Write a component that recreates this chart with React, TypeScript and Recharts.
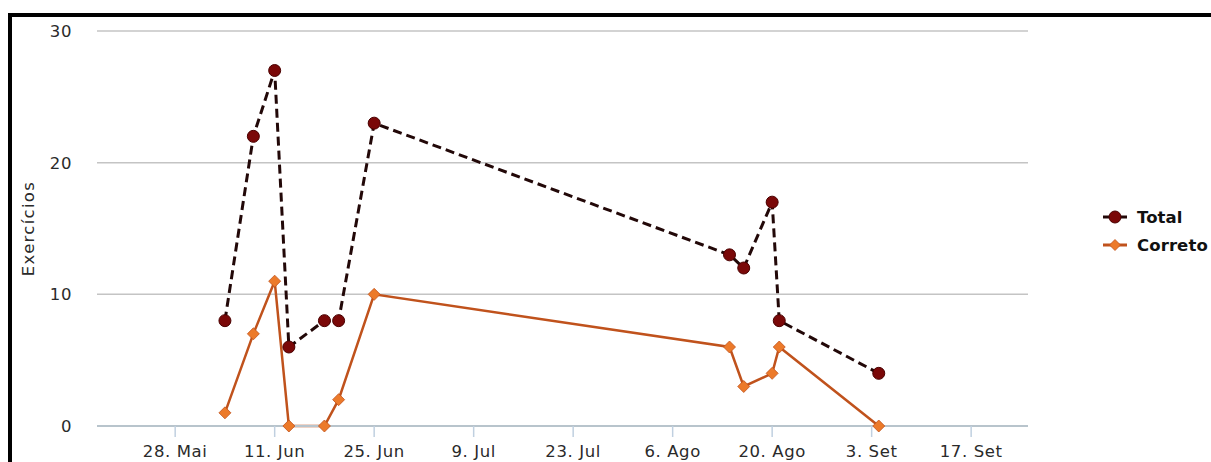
import React from "react";
import { LineChart, Line, XAxis, YAxis, CartesianGrid } from "recharts";

// dates of each exercise session (x)
const sessionDates = [
  "2018-06-04", "2018-06-08", "2018-06-11", "2018-06-13", "2018-06-18", "2018-06-20",
  "2018-06-25", "2018-08-14", "2018-08-16", "2018-08-20", "2018-08-21", "2018-09-04",
];
const totalValues = [8, 22, 27, 6, 8, 8, 23, 13, 12, 17, 8, 4];
const corretoValues = [1, 7, 11, 0, 0, 2, 10, 6, 3, 4, 6, 0];

const tickDates = [
  "2018-05-28", "2018-06-11", "2018-06-25", "2018-07-09", "2018-07-23",
  "2018-08-06", "2018-08-20", "2018-09-03", "2018-09-17",
];
const tickLabels = ["28. Mai", "11. Jun", "25. Jun", "9. Jul", "23. Jul", "6. Ago", "20. Ago", "3. Set", "17. Set"];
const xRange = ["2018-05-17", "2018-09-25"];
const yTicks = [0, 10, 20, 30];

const seriesNames = ["Total", "Correto"];

const toTs = (d: string) => {
  const [y, m, day] = d.split("-").map(Number);
  return Date.UTC(y, m - 1, day);
};

const data = sessionDates.map((d, i) => ({
  t: toTs(d),
  total: totalValues[i],
  correto: corretoValues[i],
}));
const ticks = tickDates.map(toTs);

const FONT = "'DejaVu Sans', Verdana, sans-serif";
const TEXT = "#2a2a2a";

const TOTAL_LINE = "#220808";
const TOTAL_DOT = "#7a0808";
const CORRETO_LINE = "#c0521c";
const CORRETO_DOT = "#ec7a2a";

function CircleDot(props: any) {
  const { cx, cy } = props;
  if (cx == null || cy == null) return null;
  return <circle cx={cx} cy={cy} r={6} fill={TOTAL_DOT} stroke="#4a0000" strokeWidth={1} />;
}

function DiamondDot(props: any) {
  const { cx, cy } = props;
  if (cx == null || cy == null) return null;
  const s = 6;
  return (
    <polygon
      points={`${cx},${cy - s} ${cx + s},${cy} ${cx},${cy + s} ${cx - s},${cy}`}
      fill={CORRETO_DOT}
      stroke={CORRETO_LINE}
      strokeWidth={0.8}
    />
  );
}

function YLabel(props: any) {
  const vb = props.viewBox || {};
  const x = (vb.x ?? 0) + 28;
  const y = (vb.y ?? 0) + (vb.height ?? 0) / 2;
  return (
    <text
      x={x}
      y={y}
      transform={`rotate(-90, ${x}, ${y})`}
      textAnchor="middle"
      dominantBaseline="central"
      fill={TEXT}
      fontSize={16.5}
      letterSpacing={1.3}
      fontFamily={FONT}
    >
      Exercícios
    </text>
  );
}

function LegendIcon({ index }: { index: number }) {
  const color = index === 0 ? TOTAL_LINE : CORRETO_LINE;
  return (
    <svg width={26} height={14} style={{ display: "block" }}>
      <line x1={1} y1={7} x2={25} y2={7} stroke={color} strokeWidth={3} />
      {index === 0 ? (
        <circle cx={13} cy={7} r={6} fill={TOTAL_DOT} stroke="#4a0000" strokeWidth={1} />
      ) : (
        <polygon points="13,1.5 18.5,7 13,12.5 7.5,7" fill={CORRETO_DOT} stroke={CORRETO_LINE} strokeWidth={0.8} />
      )}
    </svg>
  );
}

export default function App() {
  return (
    <div style={{ position: "fixed", left: 0, top: 0, width: 1211, height: 462, overflow: "hidden", background: "#fff" }}>
      <div
        style={{
          position: "absolute",
          left: 8,
          top: 13,
          width: 1300,
          height: 600,
          border: "4px solid #000",
          boxSizing: "border-box",
        }}
      />
      <div style={{ position: "absolute", left: 0, top: 0 }}>
        <LineChart width={1211} height={462} data={data} margin={{ top: 31, right: 183, bottom: 0, left: 0 }}>
          <CartesianGrid vertical={false} stroke="#c4c4c4" strokeWidth={1.5} />
          <XAxis
            dataKey="t"
            type="number"
            scale="time"
            domain={[toTs(xRange[0]), toTs(xRange[1])]}
            ticks={ticks}
            tickFormatter={(v: number) => tickLabels[ticks.indexOf(v)] ?? ""}
            height={36}
            stroke="#c0d0e0"
            axisLine={{ stroke: "#b8c4cc", strokeWidth: 2 }}
            tickLine={{ stroke: "#c0d0e0", strokeWidth: 1.5 }}
            tickSize={11}
            tickMargin={8}
            tick={{ fill: TEXT, fontSize: 16.5, fontFamily: FONT, letterSpacing: 0.6 }}
            interval={0}
          />
          <YAxis
            domain={[0, 30]}
            ticks={yTicks}
            width={97}
            axisLine={false}
            tickLine={false}
            tickSize={0}
            tickMargin={25}
            tick={{ fill: TEXT, fontSize: 16.5, fontFamily: FONT, letterSpacing: 0.6 }}
            label={<YLabel />}
          />
          <Line
            dataKey="total"
            name={seriesNames[0]}
            stroke={TOTAL_LINE}
            strokeWidth={3}
            strokeDasharray="9 5"
            dot={<CircleDot />}
            activeDot={false}
            isAnimationActive={false}
          />
          <Line
            dataKey="correto"
            name={seriesNames[1]}
            stroke={CORRETO_LINE}
            strokeWidth={2.5}
            dot={<DiamondDot />}
            activeDot={false}
            isAnimationActive={false}
          />
        </LineChart>
      </div>
      <div
        style={{
          position: "absolute",
          left: 1102,
          top: 203,
          fontFamily: FONT,
          fontWeight: "bold",
          fontSize: 16.5,
          letterSpacing: 0.1,
          color: "#111",
          whiteSpace: "nowrap",
        }}
      >
        {seriesNames.map((name, i) => (
          <div key={name} style={{ display: "flex", alignItems: "center", height: 28 }}>
            <LegendIcon index={i} />
            <span style={{ marginLeft: 9 }}>{name}</span>
          </div>
        ))}
      </div>
    </div>
  );
}
